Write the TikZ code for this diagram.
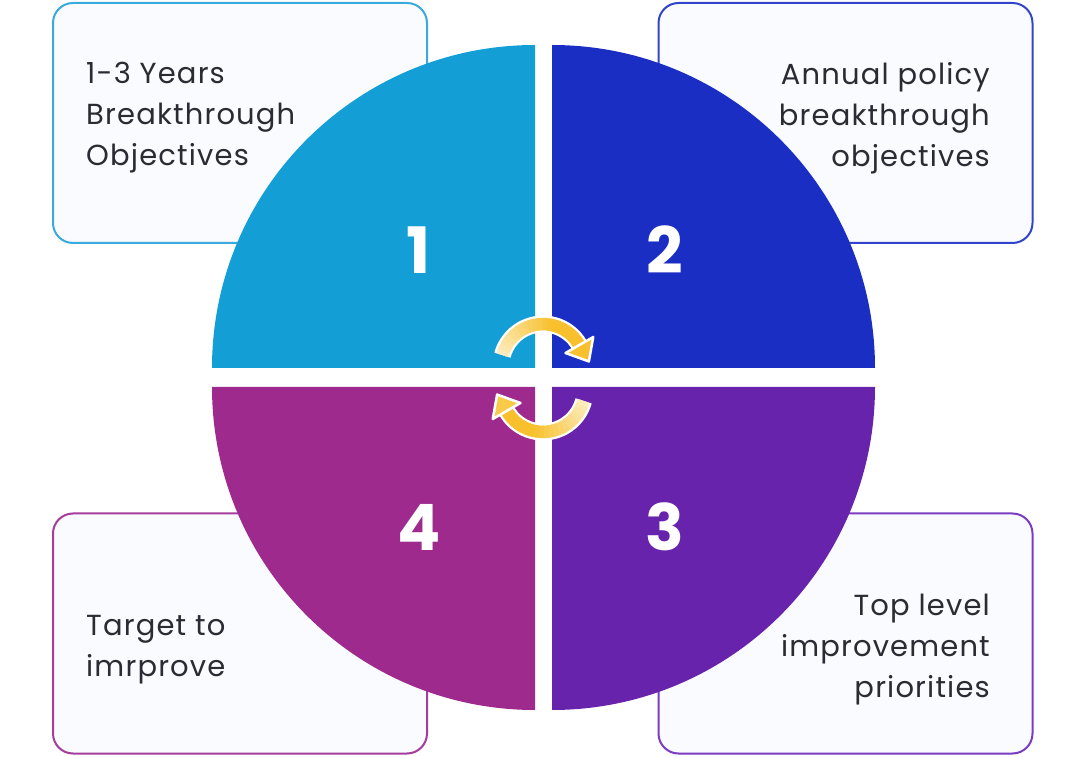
\documentclass[tikz,border=0pt]{standalone}
\usepackage{fontspec}
\setmainfont{Poppins}
\newfontfamily\lblfont[LetterSpace=4]{Poppins}
\usetikzlibrary{arrows.meta}
\definecolor{qa}{HTML}{139FD6}
\definecolor{qb}{HTML}{1A2EC4}
\definecolor{qc}{HTML}{6823AC}
\definecolor{qd}{HTML}{9E2A8E}
\definecolor{ba}{HTML}{3AA9DE}
\definecolor{bb}{HTML}{3344CC}
\definecolor{bc}{HTML}{7B3CC2}
\definecolor{bd}{HTML}{A63C9C}
\definecolor{boxfill}{HTML}{FAFBFF}
\definecolor{txt}{HTML}{2B2B33}
\definecolor{ayel}{HTML}{F8C02C}
\definecolor{acream}{HTML}{FCEBBB}
\begin{document}
\begin{tikzpicture}[x=1pt,y=1pt,
  box/.style={rounded corners=20pt, line width=2pt, fill=boxfill, inner sep=0pt},
  lbl/.style={font=\lblfont\fontsize{29}{41}\selectfont, text=txt, inner sep=0pt},
  num/.style={font=\fontsize{64}{64}\bfseries\selectfont, text=white, inner sep=0pt}]
\useasboundingbox (0,0) rectangle (1080,756);
% boxes
\node[box, draw=ba, minimum width=374pt, minimum height=240pt] (b1) at (240,633) {};
\node[box, draw=bb, minimum width=374pt, minimum height=240pt] (b2) at (845.5,633) {};
\node[box, draw=bd, minimum width=374pt, minimum height=240pt] (b4) at (240,122.5) {};
\node[box, draw=bc, minimum width=374pt, minimum height=240pt] (b3) at (845.5,122.5) {};
% texts
\node[lbl, anchor=west, align=left] (t1) at (86,638) {1-3 Years\\Breakthrough\\Objectives};
\node[lbl, anchor=east, align=right] (t2) at (990,638) {Annual policy\\breakthrough\\objectives};
\node[lbl, anchor=west, align=left] (t4) at (86,106.5) {Target to\\imrprove};
\node[lbl, anchor=east, align=right] (t3) at (990,106) {Top level\\improvement\\priorities};
% quadrants
\fill[qa] (535,388) -- (212,388) arc[start angle=180, end angle=90, radius=323] -- cycle;
\fill[qb] (552,388) -- (552,711) arc[start angle=90, end angle=0, radius=323] -- cycle;
\fill[qd] (535,369) -- (535,46) arc[start angle=270, end angle=180, radius=323] -- cycle;
\fill[qc] (552,369) -- (875,369) arc[start angle=0, end angle=-90, radius=323] -- cycle;
% numbers
\node[num] (n1) at (419,506) {1};
\node[num] (n2) at (665,506) {2};
\node[num] (n4) at (419,229) {4};
\node[num] (n3) at (665,229) {3};
% cycle arrows
\foreach \cx/\cy/\sa/\ea/\hc in {543/390/165/30/ayel, 543/366/-15/-150/ayel!80!acream}{
  \pgfmathsetmacro{\span}{\sa-\ea}
  \draw[white, line width=17pt]
    ([shift={(\sa:42)}]\cx,\cy) arc[start angle=\sa, end angle=\ea, radius=42];
  \foreach \i in {0,...,19}{
    \pgfmathsetmacro{\aa}{\sa-\i*\span/20}
    \pgfmathsetmacro{\ab}{\sa-(\i+1)*\span/20-1}
    \pgfmathsetmacro{\mx}{min(100,\i*8)}
    \draw[ayel!\mx!acream, line width=12.5pt]
      ([shift={(\aa:42)}]\cx,\cy) arc[start angle=\aa, end angle=\ab, radius=42];
  }
  \filldraw[fill=\hc, draw=white, line width=2.5pt, line join=round]
    ([shift={(\ea:58)}]\cx,\cy) -- ([shift={(\ea:42)},shift={(\ea-90:19)}]\cx,\cy)
    -- ([shift={(\ea:26)}]\cx,\cy) -- cycle;
}
\end{tikzpicture}
\end{document}
